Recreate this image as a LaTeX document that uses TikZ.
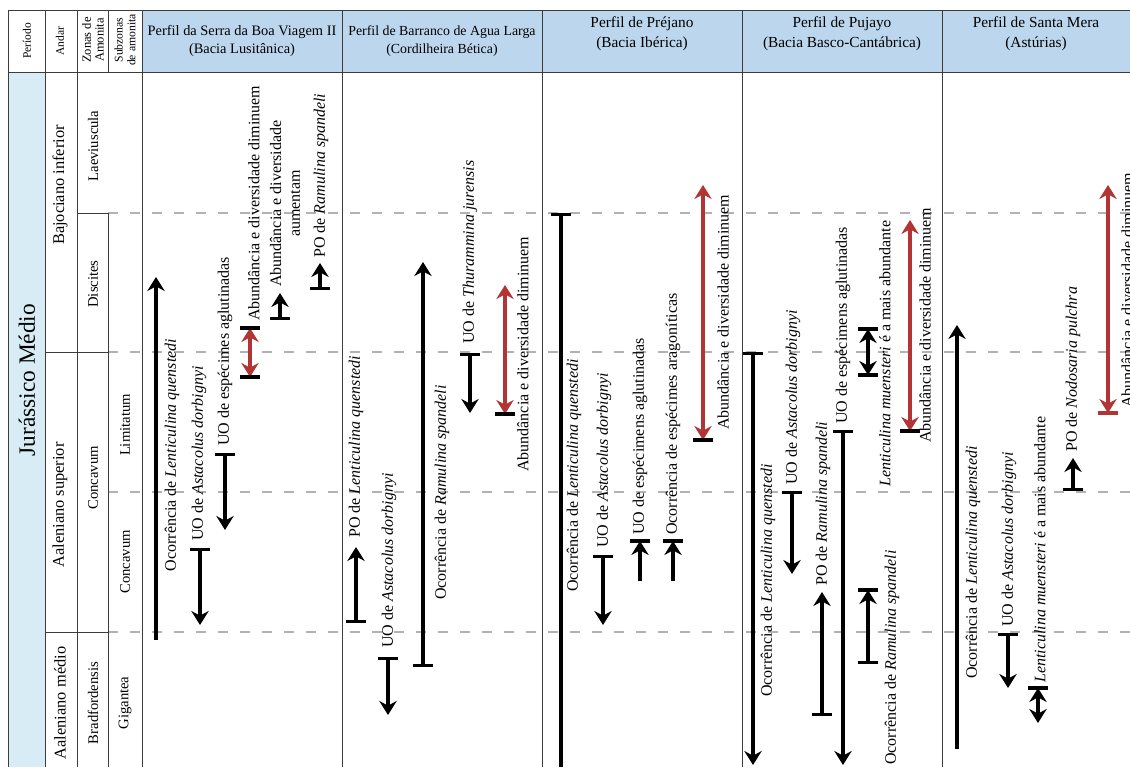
\documentclass[tikz,border=0pt]{standalone}
\usepackage{fontspec}
\setmainfont{Liberation Serif}
\usetikzlibrary{arrows.meta}
\definecolor{hdrblue}{RGB}{188,215,237}
\definecolor{perblue}{RGB}{216,236,245}
\definecolor{redarr}{RGB}{178,52,52}
\definecolor{dashgray}{RGB}{178,178,178}
\definecolor{gridc}{RGB}{60,60,60}
\begin{document}
\begin{tikzpicture}[x=0.75pt,y=-0.75pt,
  grid/.style={draw=gridc, line width=0.7pt},
  zoneline/.style={draw=dashgray, line width=0.8pt, dash pattern=on 7.5pt off 9pt},
  ln/.style={line width=2.5pt},
  barup/.style={ln, arrows={Bar[width=15pt]-Stealth[length=10.5pt,width=13pt,inset=3.5pt]}},
  tipend/.style={ln, arrows={-Stealth[length=10.5pt,width=13pt,inset=3.5pt]}},
  twotip/.style={ln, arrows={Stealth[length=10.5pt,width=13pt,inset=3.5pt]-Stealth[length=10.5pt,width=13pt,inset=3.5pt]}},
  barend/.style={ln, arrows={Bar[width=15pt]-}},
  redtwo/.style={twotip, color=redarr},
  lab/.style={rotate=90, anchor=west, inner sep=0pt, font=\fontsize{12}{14}\selectfont},
  hdr/.style={align=center, inner sep=0pt},
  side/.style={rotate=90, inner sep=0pt, align=center},
]
\useasboundingbox (0,0) rectangle (1130,767);
\clip (0,0) rectangle (1130,767);
% fills
\fill[white] (0,0) rectangle (1130,767);
\fill[hdrblue] (142,10) rectangle (1130,72);
\fill[perblue] (8,72) rectangle (45,767);
% dashed zone lines
\foreach \yy in {213,352,492,632} {\draw[zoneline] (108,\yy) -- (1130,\yy);}
% grid
\draw[grid] (8,10) -- (1130,10);
\draw[grid] (8,72) -- (1130,72);
\foreach \xx in {8,45,77,142,342,542,742,942} {\draw[grid] (\xx,10) -- (\xx,767);}
\draw[grid] (108,10) -- (108,72);
\draw[grid] (108,213) -- (108,767);
\draw[grid] (77,213) -- (108,213);
\draw[grid] (45,352) -- (108,352);
\draw[grid] (45,632) -- (108,632);
% left header
\node[side, font=\fontsize{8.6}{10}\selectfont] (hper) at (27,41) {Período};
\node[side, font=\fontsize{8.6}{10}\selectfont] (hand) at (60,41) {Andar};
\node[side, font=\fontsize{9.4}{9.6}\selectfont] (hzon) at (93,40) {Zonas de\\Amonita};
\node[side, font=\fontsize{8.8}{9.6}\selectfont] (hsub) at (125,40) {Subzonas\\de amonita};
% profile headers
\node[hdr, font=\fontsize{10.8}{13.5}\selectfont] (hp1) at (242,41) {Perfil da Serra da Boa Viagem II\\(Bacia Lusitânica)};
\node[hdr, font=\fontsize{10.4}{13.5}\selectfont] (hp2) at (442,41) {Perfil de Barranco de Agua Larga\\(Cordilheira Bética)};
\node[hdr, font=\fontsize{11.5}{15}\selectfont] (hp3) at (642,34) {Perfil de Préjano\\(Bacia Ibérica)};
\node[hdr, font=\fontsize{11.5}{15}\selectfont] (hp4) at (842,34) {Perfil de Pujayo\\(Bacia Basco-Cantábrica)};
\node[hdr, font=\fontsize{11.5}{15}\selectfont] (hp5) at (1036,34) {Perfil de Santa Mera\\(Astúrias)};
% left body
\node[side, font=\fontsize{17.5}{20}\selectfont] (per) at (27,380) {Jurássico Médio};
\node[side, font=\fontsize{12.3}{14}\selectfont] (and1) at (60,185) {Bajociano inferior};
\node[side, font=\fontsize{12.3}{14}\selectfont] (and2) at (60,505) {Aaleniano superior};
\node[side, font=\fontsize{12.3}{14}\selectfont] (and3) at (60,703) {Aaleniano médio};
\node[side, font=\fontsize{11}{13}\selectfont] (z1) at (93,146) {Laeviuscula};
\node[side, font=\fontsize{11}{13}\selectfont] (z2) at (93,284) {Discites};
\node[side, font=\fontsize{11}{13}\selectfont] (z3) at (93,478) {Concavum};
\node[side, font=\fontsize{11}{13}\selectfont] (z4) at (93,703) {Bradfordensis};
\node[side, font=\fontsize{11}{13}\selectfont] (sz1) at (125,425) {Limitatum};
\node[side, font=\fontsize{11}{13}\selectfont] (sz2) at (125,562) {Concavum};
\node[side, font=\fontsize{11}{13}\selectfont] (sz3) at (125,703) {Gigantea};
% ---------- Serra da Boa Viagem II
\coordinate (s1a) at (156,640); \coordinate (s1b) at (156,277);
\draw[tipend] (s1a) -- (s1b);
\node[lab, anchor=center] (ls1) at (172,455) {Ocorrência de \textit{Lenticulina quenstedi}};
\coordinate (s2a) at (200,548); \coordinate (s2b) at (200,625);
\draw[barup] (s2a) -- (s2b);
\node[lab] (ls2) at (199,541) {UO de \textit{Astacolus dorbignyi}};
\coordinate (s3a) at (225,453); \coordinate (s3b) at (225,530);
\draw[barup] (s3a) -- (s3b);
\node[lab] (ls3) at (225,446) {UO de espécimes aglutinadas};
\coordinate (s4a) at (250,377); \coordinate (s4b) at (250,328);
\draw[redtwo] (s4a) -- (s4b);
\draw[ln] ([xshift=-7.5pt]s4a) -- ([xshift=7.5pt]s4a);
\draw[ln] ([xshift=-7.5pt]s4b) -- ([xshift=7.5pt]s4b);
\node[lab] (ls4) at (254,321) {Abundância e diversidade diminuem};
\coordinate (s5a) at (280,320); \coordinate (s5b) at (280,293);
\draw[barup] (s5a) -- (s5b);
\node[lab, align=center] (ls5) at (285,287) {Abundância e diversidade\\aumentam};
\coordinate (s6a) at (320,290); \coordinate (s6b) at (320,263);
\draw[barup] (s6a) -- (s6b);
\node[lab] (ls6) at (321,258) {PO de \textit{Ramulina spandeli}};
% ---------- Barranco de Agua Larga
\coordinate (b1a) at (356,623); \coordinate (b1b) at (356,547);
\draw[barup] (b1a) -- (b1b);
\node[lab] (lb1) at (356,538) {PO de \textit{Lenticulina quenstedi}};
\coordinate (b2a) at (388,657); \coordinate (b2b) at (388,715);
\draw[barup] (b2a) -- (b2b);
\node[lab] (lb2) at (389,648) {UO de \textit{Astacolus dorbignyi}};
\coordinate (b3a) at (423,667); \coordinate (b3b) at (423,262);
\draw[barup] (b3a) -- (b3b);
\node[lab] (lb3) at (442,600) {Ocorrência de \textit{Ramulina spandeli}};
\coordinate (b4a) at (470,353); \coordinate (b4b) at (470,413);
\draw[barup] (b4a) -- (b4b);
\node[lab] (lb4) at (470,344) {UO de \textit{Thurammina jurensis}};
\coordinate (b5a) at (505,414); \coordinate (b5b) at (505,285);
\draw[redtwo] (b5a) -- (b5b);
\draw[ln] ([xshift=-7.5pt]b5a) -- ([xshift=7.5pt]b5a);
\node[lab] (lb5) at (523,472) {Abundância e diversidade diminuem};
% ---------- Préjano
\coordinate (c1a) at (561,213); \coordinate (c1b) at (561,767);
\draw[barend] (c1a) -- (c1b);
\node[lab] (lc1) at (574,592) {Ocorrência de \textit{Lenticulina quenstedi}};
\coordinate (c2a) at (603,555); \coordinate (c2b) at (603,625);
\draw[barup] (c2a) -- (c2b);
\node[lab] (lc2) at (604,548) {UO de \textit{Astacolus dorbignyi}};
\coordinate (c3a) at (640,581); \coordinate (c3b) at (640,541);
\draw[tipend] (c3a) -- (c3b);
\draw[ln] ([xshift=-7.5pt]c3b) -- ([xshift=7.5pt]c3b);
\node[lab] (lc3) at (640,535) {UO de espécimens aglutinadas};
\coordinate (c4a) at (673,581); \coordinate (c4b) at (673,541);
\draw[tipend] (c4a) -- (c4b);
\draw[ln] ([xshift=-7.5pt]c4b) -- ([xshift=7.5pt]c4b);
\node[lab] (lc4) at (673,535) {Ocorrência de espécimes aragoníticas};
\coordinate (c5a) at (703,440); \coordinate (c5b) at (703,185);
\draw[redtwo] (c5a) -- (c5b);
\draw[ln] ([xshift=-7.5pt]c5a) -- ([xshift=7.5pt]c5a);
\node[lab] (lc5) at (723,430) {Abundância e diversidade diminuem};
% ---------- Pujayo
\coordinate (d1a) at (753,352); \coordinate (d1b) at (753,765);
\draw[barup] (d1a) -- (d1b);
\node[lab] (ld1) at (768,697) {Ocorrência de \textit{Lenticulina quenstedi}};
\coordinate (d2a) at (792,491); \coordinate (d2b) at (792,574);
\draw[barup] (d2a) -- (d2b);
\node[lab] (ld2) at (793,485) {UO de \textit{Astacolus dorbignyi}};
\coordinate (d3a) at (822,716); \coordinate (d3b) at (822,592);
\draw[barup] (d3a) -- (d3b);
\node[lab] (ld3) at (823,586) {PO de \textit{Ramulina spandeli}};
\coordinate (d4a) at (843,430); \coordinate (d4b) at (843,765);
\draw[barup] (d4a) -- (d4b);
\node[lab] (ld4) at (843,424) {UO de espécimens aglutinadas};
\coordinate (d5a) at (868,664); \coordinate (d5b) at (868,590);
\draw[barup] (d5a) -- (d5b);
\draw[ln] ([xshift=-7.5pt]d5b) -- ([xshift=7.5pt]d5b);
\node[lab] (ld5) at (892,765) {Ocorrência de \textit{Ramulina spandeli}};
\coordinate (d6a) at (868,375); \coordinate (d6b) at (868,329);
\draw[twotip] (d6a) -- (d6b);
\draw[ln] ([xshift=-7.5pt]d6a) -- ([xshift=7.5pt]d6a);
\draw[ln] ([xshift=-7.5pt]d6b) -- ([xshift=7.5pt]d6b);
\node[lab] (ld6) at (885,487) {\textit{Lenticulina muensteri} é a mais abundante};
\coordinate (d7a) at (910,431); \coordinate (d7b) at (910,220);
\draw[redtwo] (d7a) -- (d7b);
\draw[ln] ([xshift=-7.5pt]d7a) -- ([xshift=7.5pt]d7a);
\node[lab] (ld7) at (925,443) {Abundância e diversidade diminuem};
% ---------- Santa Mera
\coordinate (e1a) at (957,749); \coordinate (e1b) at (957,325);
\draw[tipend] (e1a) -- (e1b);
\node[lab] (le1) at (973,679) {Ocorrência de \textit{Lenticulina quenstedi}};
\coordinate (e2a) at (1008,633); \coordinate (e2b) at (1008,688);
\draw[barup] (e2a) -- (e2b);
\node[lab] (le2) at (1009,627) {UO de \textit{Astacolus dorbignyi}};
\coordinate (e3a) at (1038,688); \coordinate (e3b) at (1038,723);
\draw[twotip] (e3a) -- (e3b);
\draw[ln] ([xshift=-7.5pt]e3a) -- ([xshift=7.5pt]e3a);
\node[lab] (le3) at (1040,683) {\textit{Lenticulina muensteri} é a mais abundante};
\coordinate (e4a) at (1073,491); \coordinate (e4b) at (1073,458);
\draw[barup] (e4a) -- (e4b);
\node[lab] (le4) at (1073,452) {PO de \textit{Nodosaria pulchra}};
\coordinate (e5a) at (1108,413); \coordinate (e5b) at (1108,185);
\draw[redtwo] (e5a) -- (e5b);
\draw[ln, redarr] ([xshift=-7.5pt]e5a) -- ([xshift=7.5pt]e5a);
\node[lab] (le5) at (1127,408) {Abundância e diversidade diminuem};
\end{tikzpicture}
\end{document}
